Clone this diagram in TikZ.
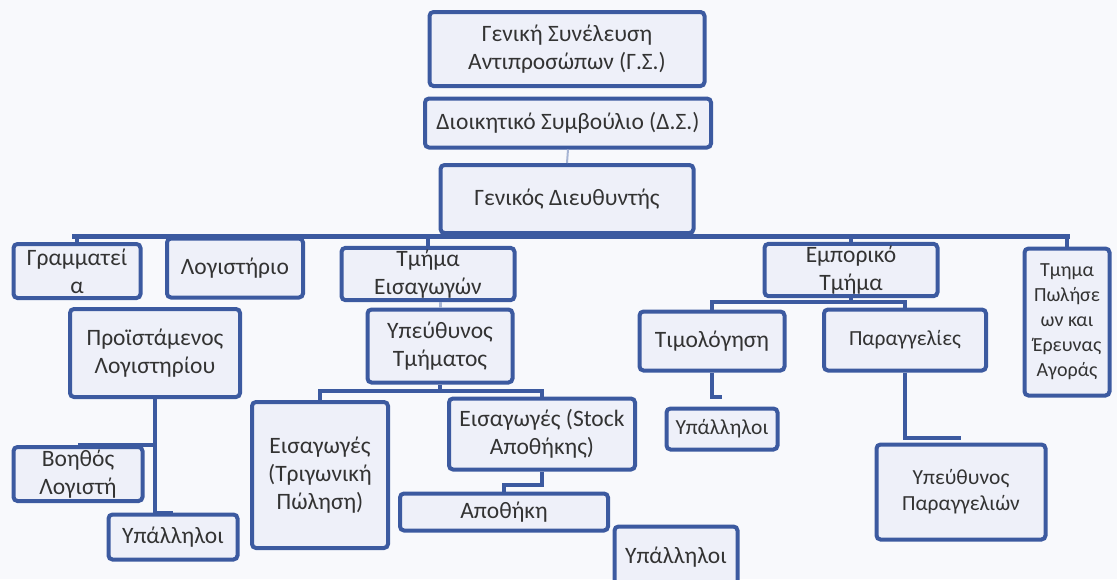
\documentclass[tikz,border=0pt]{standalone}
\usepackage{fontspec}
\setmainfont{Carlito}
\usepackage{xcolor}
\definecolor{orgblue}{HTML}{3C5AA0}
\definecolor{orgfill}{HTML}{EEF0F9}
\definecolor{orgback}{HTML}{F8F9FC}

\begin{document}
\begin{tikzpicture}[x=1pt,y=-1pt,
    unit/.style={draw=orgblue, line width=4pt, fill=orgfill, rounded corners=4pt,
        align=center, text=black!80, font=\fontsize{23.5}{28}\selectfont, inner sep=2pt},
    small/.style={font=\fontsize{21.5}{26}\selectfont},
    link/.style={draw=orgblue, line width=4pt},
    faint/.style={draw=orgblue!45, line width=3pt}]
    \fill[orgback] (0,0) rectangle (1117,579);
    \useasboundingbox (0,0) rectangle (1117,579);

    % top of the chart
    \node[unit, minimum width=275, minimum height=74] (gs) at (567,49)
        {Γενική Συνέλευση\\Αντιπροσώπων (Γ.Σ.)};
    \node[unit, minimum width=286, minimum height=49] (ds) at (568,123)
        {Διοικητικό Συμβούλιο (Δ.Σ.)};
    \node[unit, minimum width=253, minimum height=68] (gd) at (567,199)
        {Γενικός Διευθυντής};
    \coordinate (busL) at (72,236);
    \coordinate (busR) at (1070,236);

    % departments
    \node[unit, minimum width=127, minimum height=54] (gram) at (77,271) {Γραμματεί\\α};
    \node[unit, minimum width=136, minimum height=59] (logist) at (235,268) {Λογιστήριο};
    \node[unit, minimum width=173, minimum height=52] (eisag) at (428,274) {Τμήμα\\Εισαγωγών};
    \node[unit, minimum width=173, minimum height=52] (empor) at (851,270) {Εμπορικό\\Τμήμα};
    \node[unit, minimum width=85, minimum height=147, font=\fontsize{20}{25}\selectfont]
        (polis) at (1067,322) {Τμημα\\Πωλήσε\\ων και\\Έρευνας\\Αγοράς};

    \node[unit, minimum width=170, minimum height=88] (proist) at (155,353)
        {Προϊστάμενος\\Λογιστηρίου};
    \node[unit, minimum width=129, minimum height=54] (voith) at (78,474) {Βοηθός\\Λογιστή};
    \node[unit, minimum width=129, minimum height=45] (ypal1) at (173,537) {Υπάλληλοι};

    \node[unit, minimum width=145, minimum height=73] (yptm) at (440,346)
        {Υπεύθυνος\\Τμήματος};
    \node[unit, minimum width=136, minimum height=146] (trig) at (320,475)
        {Εισαγωγές\\(Τριγωνική\\Πώληση)};
    \node[unit, minimum width=186, minimum height=71] (stock) at (542,434)
        {Εισαγωγές (Stock\\Αποθήκης)};
    \node[unit, minimum width=208, minimum height=37] (apoth) at (504,512) {Αποθήκη};
    \node[unit, minimum width=123, minimum height=61] (ypal2) at (676,557) {Υπάλληλοι};

    \node[unit, minimum width=145, minimum height=59] (timol) at (712,341) {Τιμολόγηση};
    \node[unit, small, minimum width=162, minimum height=61] (parag) at (905,340) {Παραγγελίες};
    \node[unit, small, minimum width=111, minimum height=41] (ypal3) at (722,429) {Υπάλληλοι};
    \node[unit, small, minimum width=169, minimum height=95] (yppar) at (961,492)
        {Υπεύθυνος\\Παραγγελιών};

    % connectors
    \draw[faint, line width=2pt] (ds.south) -- (gd.north);
    \draw[link, line width=5pt] (busL) -- (busR);
    \foreach \d in {gram,logist,eisag,empor,polis}
        \draw[link] (\d.north |- busL) -- (\d.north);
    \draw[link] (proist.south) |- (voith.north);
    \draw[link] (proist.south) |- (ypal1.north);
    \draw[faint] (yptm.north |- eisag.south) -- (yptm.north);
    \draw[link] (yptm.south) -- ++(0,6);
    \draw[link] (trig.north) -- ++(0,-9) -| (stock.north);
    \draw[link] (stock.south) -- ++(0,13) -| (apoth.north);
    \draw[link] (empor.south) -- ++(0,4);
    \draw[link] (timol.north) -- ++(0,-8) -| (parag.north);
    \draw[link] (timol.south) |- ([yshift=10pt]ypal3.north);
    \draw[link] (parag.south) |- ([yshift=5pt]yppar.north);
\end{tikzpicture}
\end{document}
